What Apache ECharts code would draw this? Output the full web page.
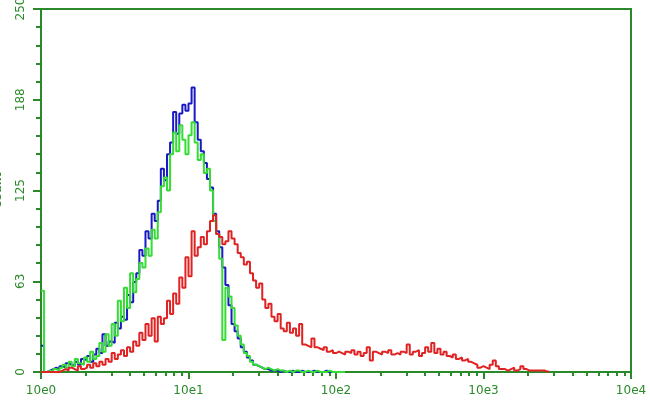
<!DOCTYPE html>
<html>
<head>
<meta charset="utf-8">
<script src="https://cdn.jsdelivr.net/npm/echarts@6/dist/echarts.min.js"></script>
<style>html,body{margin:0;padding:0;background:#fff;}#chart{width:650px;height:401px;}</style>
</head>
<body>
<div id="chart"></div>
<script>
// Histogram channel counts (48 channels per decade, channel 0 = 10e0, channel 192 = 10e4)
const decadeLabels = ['10e0', '10e1', '10e2', '10e3', '10e4'];
const decadeValues = [1, 10, 100, 1000, 10000];
const minorMults = [2, 3, 4, 5, 6, 7, 8, 9];
const yTickLabels = [0, 63, 125, 188, 250];

const blueCounts = [18,0,1,2,3,2,4,3,6,5,
  4,7,5,9,8,11,7,12,16,13,
  26,18,21,20,34,30,38,36,53,48,
  62,68,84,80,97,92,109,104,118,140,
  132,150,158,179,164,178,184,180,185,196,
  172,160,152,144,133,127,109,97,86,72,
  60,46,33,28,23,17,14,10,8,5,
  4,3,2,2,1,1,1,0,1,0,
  0,1,0,0,1,0,0,0,1,0,
  0,0,1,0,0,0,0,0,0,0];

const greenCounts = [56,0,1,0,2,1,3,5,3,7,
  4,9,6,5,10,7,14,9,11,20,
  14,26,18,33,25,49,35,58,44,68,
  55,64,75,72,85,80,98,92,110,128,
  134,125,150,165,152,170,160,150,163,172,
  158,146,150,137,140,125,104,95,78,22,
  58,52,44,32,25,19,13,11,7,5,
  4,3,2,3,2,1,2,1,1,0,
  1,0,1,1,0,0,1,0,0,1,
  0,0,0,1,0,0,0,0,0,0];

const redCounts = [0,0,0,0,0,0,1,2,1,3,
  2,1,4,2,3,5,3,6,4,7,
  5,9,7,13,9,12,15,11,17,14,
  21,18,27,22,33,25,37,21,38,33,
  37,49,40,54,47,65,58,79,66,97,
  80,86,93,88,97,104,108,95,93,88,
  90,97,92,88,82,79,74,76,68,63,
  58,61,50,44,47,38,35,40,30,28,
  34,27,30,25,33,19,18,17,23,17,
  16,15,17,14,15,13,14,13,12,14,
  13,15,12,14,11,13,17,8,14,13,
  12,14,13,15,12,13,12,14,13,19,
  12,14,15,11,13,17,14,20,13,16,
  12,14,11,10,12,9,10,8,9,7,
  6,5,3,4,3,2,5,8,4,2,
  2,1,2,3,1,2,4,2,1,1,
  1,1,1,1,0,1];

const channelCount = 193;
const channels = Array.from({length: channelCount}, (_, i) => String(i));
const minorTickValues = [];
decadeValues.slice(0, 4).forEach(d => minorMults.forEach(m => minorTickValues.push(d * m)));

const axisGreen = '#2a8a2a';
const font = 'DejaVu Sans';

const chart = echarts.init(document.getElementById('chart'));
chart.setOption({
  animation: false,
  backgroundColor: '#ffffff',
  grid: {left: 41, right: 19, top: 9, bottom: 29, show: true, borderColor: axisGreen, borderWidth: 2,
    containLabel: false, outerBoundsMode: 'none'},
  xAxis: [
    {
      type: 'log', logBase: 10, min: 1, max: 10000, position: 'bottom',
      name: 'Green Fluorescence (FITC-Height)', nameLocation: 'middle', nameGap: 25,
      nameTextStyle: {color: axisGreen, fontFamily: font, fontSize: 12, verticalAlign: 'top'},
      axisLine: {show: true, lineStyle: {color: axisGreen, width: 2}},
      axisTick: {show: true, length: 7, lineStyle: {color: axisGreen, width: 2}},
      axisLabel: {color: axisGreen, fontFamily: font, fontSize: 12, margin: 13,
        formatter: v => decadeLabels[decadeValues.indexOf(Math.round(v))] || ''},
      splitLine: {show: false}
    },
    {
      type: 'category', data: channels, boundaryGap: false, show: false
    },
    {
      type: 'log', logBase: 10, min: 1, max: 10000, position: 'bottom',
      axisLine: {show: false},
      axisTick: {show: true, length: 4, customValues: minorTickValues, lineStyle: {color: axisGreen, width: 2}},
      axisLabel: {show: false},
      splitLine: {show: false}
    }
  ],
  yAxis: {
    type: 'value', min: 0, max: 250, interval: 62.5,
    name: 'Count', nameLocation: 'middle', nameGap: 37,
    nameTextStyle: {color: axisGreen, fontFamily: font, fontSize: 11, fontWeight: 'bold'},
    axisLine: {show: true, lineStyle: {color: axisGreen, width: 2}},
    axisTick: {show: true, length: 8, lineStyle: {color: axisGreen, width: 2}},
    minorTick: {show: true, splitNumber: 5, length: 5, lineStyle: {color: axisGreen, width: 2}},
    axisLabel: {color: axisGreen, fontFamily: font, fontSize: 12, rotate: 90, margin: 14,
      formatter: v => String(yTickLabels[Math.round(v / 62.5)])},
    splitLine: {show: false}
  },
  series: [
    {type: 'line', name: 'blue', xAxisIndex: 1, data: blueCounts, step: 'end', showSymbol: false,
      lineStyle: {color: '#1a1ac4', width: 2}, itemStyle: {color: '#1a1ac4'}},
    {type: 'line', name: 'green', xAxisIndex: 1, data: greenCounts, step: 'end', showSymbol: false,
      lineStyle: {color: '#33dd33', width: 2}, itemStyle: {color: '#33dd33'}},
    {type: 'line', name: 'red', xAxisIndex: 1, data: redCounts, step: 'end', showSymbol: false,
      lineStyle: {color: '#e02222', width: 2}, itemStyle: {color: '#e02222'}}
  ]
});
</script>
</body>
</html>
